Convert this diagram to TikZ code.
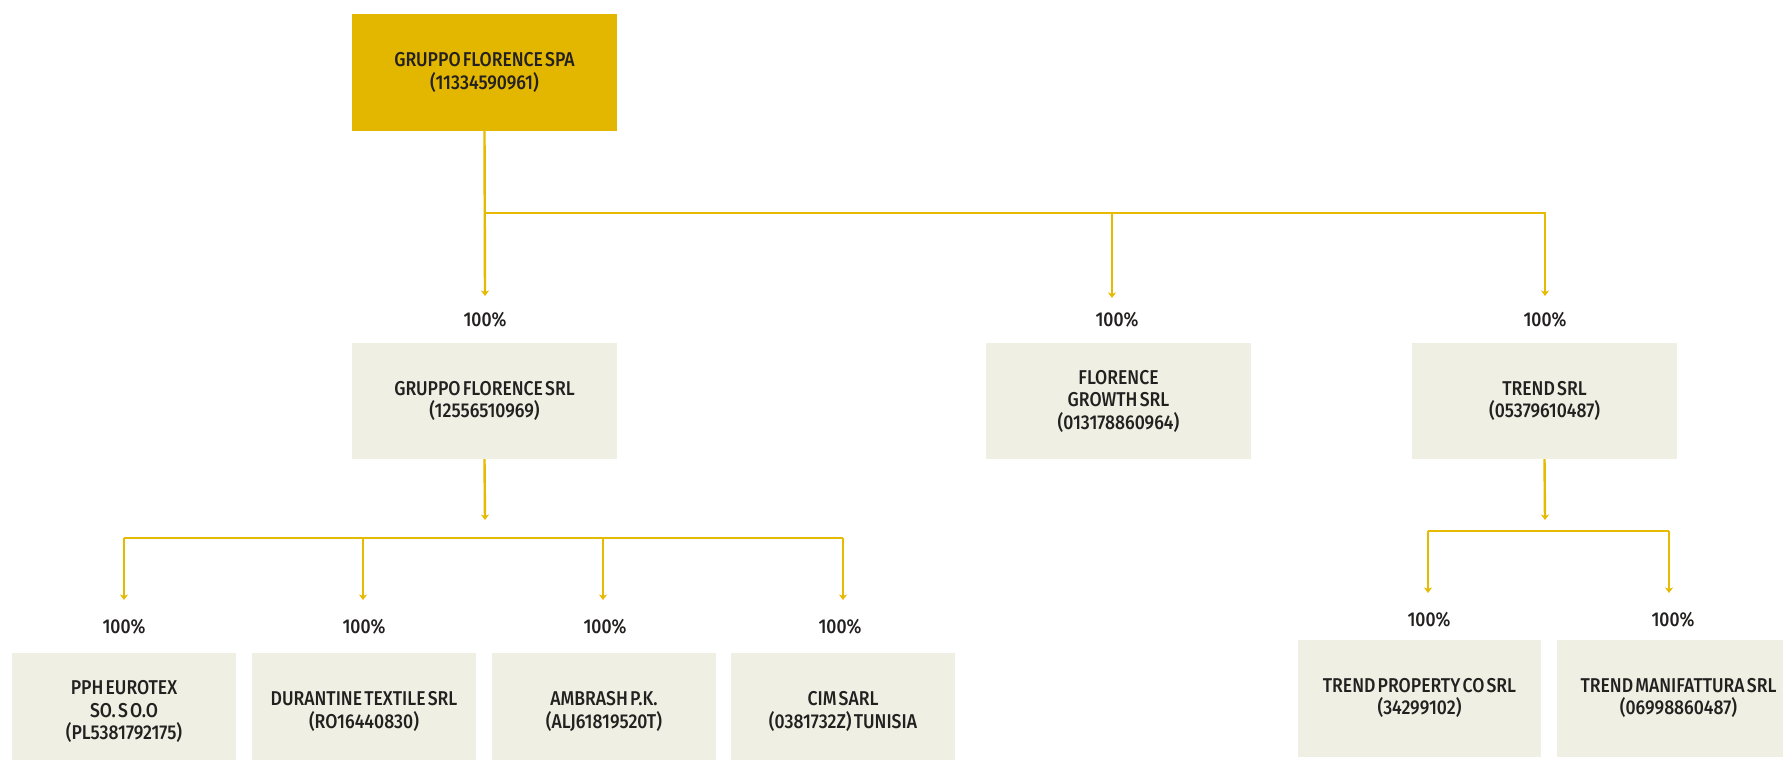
\documentclass[tikz,border=0pt]{standalone}
\usepackage{fontspec}
\setmainfont[FakeStretch=0.88,WordSpace=0.5]{Fira Sans Medium}
\usetikzlibrary{arrows.meta}
\definecolor{gold}{RGB}{227,182,0}
\definecolor{goldline}{RGB}{230,186,0}
\definecolor{boxbg}{RGB}{240,239,228}
\definecolor{ink}{RGB}{35,32,32}
\begin{document}
\begin{tikzpicture}[x=1pt,y=-1pt,
  company/.style={fill=boxbg, draw=none, text=ink, align=center, inner sep=0pt,
    font=\fontsize{20}{22.5}\selectfont},
  wide/.style={company, minimum width=265pt, minimum height=116pt},
  small/.style={company, minimum width=224pt, minimum height=117pt},
  mid/.style={company, minimum width=243pt, minimum height=117pt},
  pct/.style={text=ink, inner sep=0pt, font=\fontsize{20}{22}\selectfont},
  ln/.style={draw=goldline, line width=2.4pt},
  arr/.style={ln, -{Stealth[length=5.5pt,width=8pt,inset=1.5pt]}}]
\useasboundingbox (0,0) rectangle (1783,760);
\clip (0,0) rectangle (1783,760);
\fill[white] (0,0) rectangle (1783,760);

% boxes
\node[wide, fill=gold, minimum height=117pt] (top) at (484.5,72.5) {GRUPPO FLORENCE SPA\\(11334590961)};
\node[wide] (gfsrl) at (484.5,401) {GRUPPO FLORENCE SRL\\(12556510969)};
\node[wide] (fg) at (1118.5,401) {FLORENCE\\GROWTH SRL\\(013178860964)};
\node[wide] (trend) at (1544.5,401) {TREND SRL\\(05379610487)};

\node[small] (pph) at (124,711.5) {PPH EUROTEX\\SO. S O.O\\(PL5381792175)};
\node[small] (dur) at (364,711.5) {DURANTINE TEXTILE SRL\\(RO16440830)};
\node[small] (amb) at (604,711.5) {AMBRASH P.K.\\(ALJ61819520T)};
\node[small] (cim) at (843,711.5) {CIM SARL\\(0381732Z) TUNISIA};

\node[mid] (tp) at (1419.5,698) {TREND PROPERTY CO SRL\\(34299102)};
\node[mid] (tm) at (1678.5,698) {TREND MANIFATTURA SRL\\(06998860487)};

% percentage labels
\node[pct] (pa) at (485,320) {100\%};
\node[pct] (pb) at (1117,320) {100\%};
\node[pct] (pc) at (1545,320) {100\%};
\node[pct] (pp) at (124,627) {100\%};
\node[pct] (pd) at (364,627) {100\%};
\node[pct] (pm) at (605,627) {100\%};
\node[pct] (pi) at (840,627) {100\%};
\node[pct] (pt) at (1429,620) {100\%};
\node[pct] (pu) at (1673,620) {100\%};

% connector coordinates
\coordinate (bus1) at (0,213);
\coordinate (tipA) at (485,296);
\coordinate (tipB) at (1112,298);
\coordinate (tipC) at (1545,296);
\coordinate (bus2) at (0,538);
\coordinate (tipG) at (485,520);
\coordinate (tipP) at (124,600);
\coordinate (tipD) at (363,600);
\coordinate (tipM) at (603,600);
\coordinate (tipI) at (843,600);
\coordinate (bus3) at (0,531);
\coordinate (tipT) at (1545,520);
\coordinate (tipQ) at (1428,593);
\coordinate (tipR) at (1669,593);

% top level connectors
\draw[arr] (top.south) -- (tipA);
\draw[arr] (top.south |- bus1) -| (tipC);
\draw[arr] (tipB |- bus1) -- (tipB);

% gruppo florence srl
\draw[arr] (gfsrl.south) -- (tipG);
\draw[ln] (tipP |- bus2) -- (tipI |- bus2);
\draw[arr] (tipP |- bus2) -- (tipP);
\draw[arr] (tipD |- bus2) -- (tipD);
\draw[arr] (tipM |- bus2) -- (tipM);
\draw[arr] (tipI |- bus2) -- (tipI);

% trend srl
\draw[arr] (trend.south) -- (tipT);
\draw[ln] (tipQ |- bus3) -- (tipR |- bus3);
\draw[arr] (tipQ |- bus3) -- (tipQ);
\draw[arr] (tipR |- bus3) -- (tipR);
\end{tikzpicture}
\end{document}
